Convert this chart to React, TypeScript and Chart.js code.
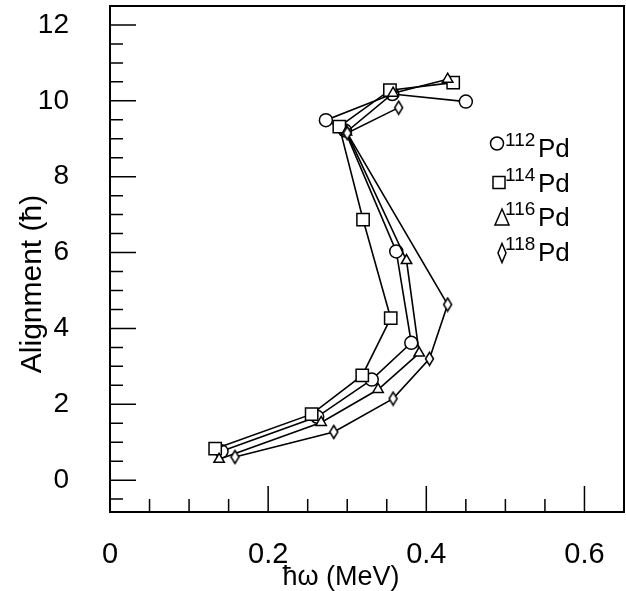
import React, { useEffect, useRef } from "react";
import { Chart, registerables } from "chart.js";

Chart.register(...registerables);

// ---- data ----
const pd112X = [0.141, 0.262, 0.331, 0.381, 0.362, 0.297, 0.273, 0.357, 0.45];
const pd112Y = [0.76, 1.67, 2.65, 3.62, 6.03, 9.22, 9.49, 10.18, 9.98];
const pd114X = [0.133, 0.255, 0.319, 0.355, 0.32, 0.29, 0.354, 0.434];
const pd114Y = [0.83, 1.74, 2.76, 4.27, 6.87, 9.32, 10.28, 10.48];
const pd116X = [0.138, 0.267, 0.339, 0.391, 0.375, 0.299, 0.358, 0.427];
const pd116Y = [0.55, 1.52, 2.39, 3.35, 5.79, 9.18, 10.2, 10.57];
const pd118X = [0.158, 0.283, 0.358, 0.404, 0.427, 0.3, 0.365];
const pd118Y = [0.61, 1.27, 2.15, 3.2, 4.63, 9.15, 9.82];

const massNumbers = ["112", "114", "116", "118"];
const elementLabel = "Pd";
const xTickValues = [0, 0.2, 0.4, 0.6];
const xTickLabels = ["0", "0.2", "0.4", "0.6"];
const yTickValues = [0, 2, 4, 6, 8, 10, 12];
const yTickLabels = ["0", "2", "4", "6", "8", "10", "12"];
const xTitle = "ħω (MeV)";
const yTitle = "Alignment (ħ)";

const FONT = '"Liberation Sans", Arial, Helvetica, sans-serif';

function makeDiamond(w: number, h: number, lw: number): HTMLCanvasElement {
  const c = document.createElement("canvas");
  c.width = Math.ceil(w + lw * 2);
  c.height = Math.ceil(h + lw * 2);
  const g = c.getContext("2d")!;
  const cx = c.width / 2;
  const cy = c.height / 2;
  g.beginPath();
  g.moveTo(cx, cy - h / 2);
  g.lineTo(cx + w / 2, cy);
  g.lineTo(cx, cy + h / 2);
  g.lineTo(cx - w / 2, cy);
  g.closePath();
  g.fillStyle = "#fff";
  g.fill();
  g.lineWidth = lw;
  g.strokeStyle = "#000";
  g.stroke();
  return c;
}

function toPoints(xs: number[], ys: number[]) {
  return xs.map((x, i) => ({ x, y: ys[i] }));
}

const frameTicksPlugin = {
  id: "frameTicks",
  beforeDatasetsDraw(chart: any) {
    const { ctx, chartArea: a, scales } = chart;
    const xs = scales.x;
    const ys = scales.y;
    ctx.save();
    ctx.strokeStyle = "#000";
    ctx.lineWidth = 1.5;
    ctx.beginPath();
    for (let i = 0; i <= 13; i++) {
      const px = xs.getPixelForValue(i * 0.05);
      const len = i % 4 === 0 ? 26 : 13;
      ctx.moveTo(px, a.bottom);
      ctx.lineTo(px, a.bottom - len);
    }
    for (let i = -1; i <= 25; i++) {
      const py = ys.getPixelForValue(i * 0.5);
      const len = i % 4 === 0 ? 26 : 13;
      ctx.moveTo(a.left, py);
      ctx.lineTo(a.left + len, py);
    }
    ctx.stroke();
    ctx.lineWidth = 2;
    ctx.strokeRect(a.left, a.top, a.right - a.left, a.bottom - a.top);
    ctx.restore();
  },
  afterDraw(chart: any) {
    const { ctx } = chart;
    ctx.save();
    ctx.fillStyle = "#000";
    ctx.strokeStyle = "#000";
    // axis titles
    ctx.textAlign = "center";
    ctx.textBaseline = "middle";
    ctx.font = `27px ${FONT}`;
    ctx.fillText(xTitle, 341, 578);
    ctx.save();
    ctx.translate(33, 284);
    ctx.rotate(-Math.PI / 2);
    ctx.font = `30px ${FONT}`;
    ctx.fillText(yTitle, 0, 0);
    ctx.restore();

    // legend
    const baselines = [157, 191.5, 226, 260.5];
    ctx.lineWidth = 1.5;
    massNumbers.forEach((m, i) => {
      const b = baselines[i];
      const mx = 499;
      ctx.beginPath();
      if (i === 0) {
        ctx.arc(mx - 2, b - 13.5, 6.5, 0, Math.PI * 2);
      } else if (i === 1) {
        ctx.rect(mx - 6, b - 15, 12, 12);
      } else if (i === 2) {
        ctx.moveTo(mx + 3, b - 17);
        ctx.lineTo(mx + 10, b - 1);
        ctx.lineTo(mx - 4, b - 1);
        ctx.closePath();
      } else {
        ctx.moveTo(mx + 3, b - 17);
        ctx.lineTo(mx + 7, b - 7.5);
        ctx.lineTo(mx + 3, b + 2);
        ctx.lineTo(mx - 1, b - 7.5);
        ctx.closePath();
      }
      ctx.stroke();
      ctx.textAlign = "left";
      ctx.textBaseline = "alphabetic";
      ctx.font = `19px ${FONT}`;
      ctx.fillText(m, 505, b - 11);
      ctx.font = `26px ${FONT}`;
      ctx.fillText(elementLabel, 538, b);
    });
    ctx.restore();
  },
};

export default function App() {
  const ref = useRef<HTMLCanvasElement | null>(null);

  useEffect(() => {
    if (!ref.current) return;
    const diamond = makeDiamond(8, 13, 1.5);
    const common = {
      borderColor: "#000",
      borderWidth: 1.6,
      pointBorderColor: "#000",
      pointBackgroundColor: "#fff",
      pointBorderWidth: 1.5,
      fill: false,
      tension: 0,
      clip: false,
    };
    const chart = new Chart(ref.current, {
      type: "line",
      data: {
        datasets: [
          { ...common, label: massNumbers[3], data: toPoints(pd118X, pd118Y), pointStyle: diamond as any, pointRadius: 6 },
          { ...common, label: massNumbers[2], data: toPoints(pd116X, pd116Y), pointStyle: "triangle", pointRadius: 6 },
          { ...common, label: massNumbers[1], data: toPoints(pd114X, pd114Y), pointStyle: "rect", pointRadius: 8.7 },
          { ...common, label: massNumbers[0], data: toPoints(pd112X, pd112Y), pointStyle: "circle", pointRadius: 6.5 },
        ],
      },
      options: {
        animation: false,
        responsive: true,
        maintainAspectRatio: false,
        layout: { autoPadding: false, padding: { top: 6, right: 2, left: 0, bottom: 0 } },
        plugins: { legend: { display: false }, tooltip: { enabled: false } },
        scales: {
          x: {
            type: "linear",
            min: 0,
            max: 0.65,
            grid: { display: false, drawTicks: false },
            border: { display: false },
            afterBuildTicks: (s: any) => {
              s.ticks = xTickValues.map((v) => ({ value: v }));
            },
            afterFit: (s: any) => {
              s.height = 79;
              s.paddingLeft = 0;
              s.paddingRight = 0;
            },
            ticks: {
              padding: 26,
              color: "#000",
              font: { size: 29, family: FONT },
              maxRotation: 0,
              callback: (_v: any, i: number) => xTickLabels[i],
            },
          },
          y: {
            type: "linear",
            min: -0.84,
            max: 12.5,
            grid: { display: false, drawTicks: false },
            border: { display: false },
            afterBuildTicks: (s: any) => {
              s.ticks = yTickValues.map((v) => ({ value: v }));
            },
            afterFit: (s: any) => {
              s.width = 110;
              s.paddingTop = 0;
              s.paddingBottom = 0;
            },
            ticks: {
              padding: 41,
              color: "#000",
              font: { size: 28, family: FONT },
              callback: (_v: any, i: number) => yTickLabels[i],
            },
          },
        },
      } as any,
      plugins: [frameTicksPlugin],
    });
    return () => chart.destroy();
  }, []);

  return (
    <div style={{ position: "fixed", left: 0, top: 0, width: 626, height: 591, background: "#fff" }}>
      <canvas ref={ref} />
    </div>
  );
}
